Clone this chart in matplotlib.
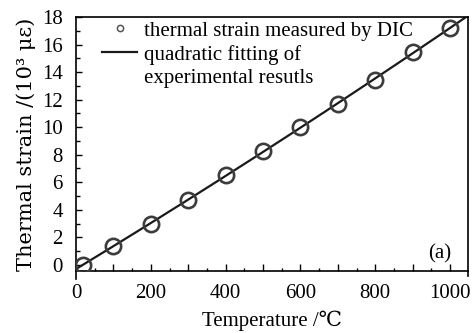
import numpy as np
import matplotlib
matplotlib.use("Agg")
import matplotlib.pyplot as plt
from matplotlib.lines import Line2D
from matplotlib.ticker import MultipleLocator, FuncFormatter

plt.rcParams['font.family'] = ['Liberation Serif', 'DejaVu Serif', 'DejaVu Sans']

# Measured thermal strain (10^3 micro-strain) vs temperature (deg C)
temperature = [20, 100, 200, 300, 400, 500, 600, 700, 800, 900, 1000]
strain = [0.0, 1.4, 3.0, 4.7, 6.5, 8.25, 10.0, 11.65, 13.45, 15.45, 17.2]

# Quadratic fit of the measurements
coef = np.polyfit(temperature, strain, 2)
t_fit = np.linspace(0, 1050, 200)
s_fit = np.polyval(coef, t_fit)

fig = plt.figure(figsize=(4.75, 3.33), dpi=100)
ax = fig.add_axes([76/475, 1-271/333, (468-76)/475, (271-17)/333])

ax.plot(t_fit, s_fit, color='#1a1a1a', lw=1.6, zorder=2)
ax.plot(temperature, strain, 'o', ms=11, mfc='none', mec='#3c3c3c', mew=1.9, zorder=3)

ax.set_xlim(0, 1048)
ax.set_ylim(-0.45, 18)
ax.xaxis.set_major_locator(MultipleLocator(100))
ax.xaxis.set_minor_locator(MultipleLocator(50))
ax.xaxis.set_major_formatter(FuncFormatter(lambda v, p: f'{v:.0f}' if round(v) % 200 == 0 else ''))
ax.yaxis.set_major_locator(MultipleLocator(2))
ax.yaxis.set_minor_locator(MultipleLocator(1))
ax.tick_params(which='both', direction='in', top=False, right=False,
               labelsize=15, width=1.0)
ax.tick_params(axis='x', which='major', length=5, pad=9)
ax.tick_params(axis='x', which='minor', length=2.5)
ax.tick_params(axis='y', which='major', length=4.5, pad=9.5)
ax.tick_params(axis='y', which='minor', length=3)
for sp in ax.spines.values():
    sp.set_linewidth(1.2)
# side frame lines run a little below the baseline
ax.spines['left'].set_bounds(-1.0, 18)
ax.spines['right'].set_bounds(-0.8, 18)

ax.set_xlabel('Temperature /\u2103', fontsize=15, labelpad=6)
ax.set_ylabel('Thermal strain /(10\u00b3 \u03bc\u03b5)', fontsize=15,
              family=['DejaVu Serif', 'DejaVu Sans'], labelpad=4)

ax.text(0.928, 0.068, '(a)', transform=ax.transAxes, fontsize=15, ha='center', va='center')

blank = Line2D([], [], ls='none')
handles = [
    Line2D([], [], marker='o', ls='none', ms=4.5, mfc='none', mec='#555555', mew=1.1),
    Line2D([], [], color='#1a1a1a', lw=1.6),
    blank,
]
labels = ['thermal strain measured by DIC', 'quadratic fitting of', 'experimental resutls']
ax.legend(handles, labels, loc='upper left', bbox_to_anchor=(0.066, 0.984), frameon=False,
          fontsize=15, handlelength=1.7, handletextpad=0.3, labelspacing=0.2,
          borderaxespad=0.0, borderpad=0.0)

fig.savefig('out.png', dpi=100, facecolor='white')
